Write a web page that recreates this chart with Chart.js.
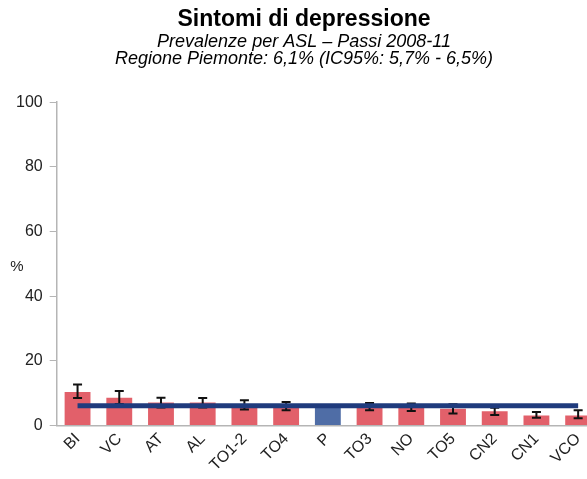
<!DOCTYPE html>
<html>
<head>
<meta charset="utf-8">
<script src="https://cdn.jsdelivr.net/npm/chart.js@4.4.1/dist/chart.umd.min.js"></script>
<style>
  html, body { margin: 0; padding: 0; background: #fff; overflow: hidden; }
  #wrap { width: 587px; height: 479px; overflow: hidden; }
  canvas { display: block; }
</style>
</head>
<body>
<div id="wrap"><canvas id="myChart" width="616" height="479"></canvas></div>
<script>
const aslLabels = ["BI", "VC", "AT", "AL", "TO1-2", "TO4", "P", "TO3", "NO", "TO5", "CN2", "CN1", "VCO"];
const prevalence = [10.4, 8.6, 7.1, 7.1, 6.4, 6.2, 6.1, 5.8, 5.7, 5.2, 4.4, 3.1, 3.1];
const ciLow = [8.5, 6.7, 5.6, 5.6, 5.0, 4.7, null, 4.7, 4.5, 3.7, 3.3, 2.4, 2.3];
const ciHigh = [12.7, 10.7, 8.6, 8.5, 7.8, 7.3, null, 7.0, 6.8, 6.6, 5.5, 4.2, 4.7];
const regionValue = 6.1;
const yTicks = [0, 20, 40, 60, 80, 100];

const barColors = aslLabels.map(l => l === "P" ? "#4f6da6" : "#e2606a");

// whiskers for the 95% CI, drawn right after the bars so the regional line sits over them
const errorBars = {
    id: "errorBars",
    afterDatasetDraw(chart, args) {
        if (args.index !== 0) return;
        const ctx = chart.ctx;
        const y = chart.scales.y;
        const meta = chart.getDatasetMeta(0);
        ctx.save();
        ctx.strokeStyle = "#111";
        ctx.lineWidth = 2;
        meta.data.forEach((bar, i) => {
            if (ciLow[i] == null) return;
            const top = y.getPixelForValue(ciHigh[i]);
            const bottom = y.getPixelForValue(ciLow[i]);
            ctx.beginPath();
            ctx.moveTo(bar.x, top);
            ctx.lineTo(bar.x, bottom);
            ctx.moveTo(bar.x - 4.5, top);
            ctx.lineTo(bar.x + 4.5, top);
            ctx.moveTo(bar.x - 4.5, bottom);
            ctx.lineTo(bar.x + 4.5, bottom);
            ctx.stroke();
        });
        ctx.restore();
    }
};

const percentLabel = {
    id: "percentLabel",
    afterDraw(chart) {
        const ctx = chart.ctx;
        const area = chart.chartArea;
        ctx.save();
        ctx.font = "15px 'Liberation Sans', Arial, sans-serif";
        ctx.fillStyle = "#222";
        ctx.textAlign = "center";
        ctx.textBaseline = "middle";
        ctx.fillText("%", 17, (area.top + area.bottom) / 2 + 3);
        ctx.restore();
    }
};

const ctx = document.getElementById("myChart").getContext("2d");
const myChart = new Chart(ctx, {
    type: "bar",
    data: {
        labels: aslLabels,
        datasets: [{
            type: "bar",
            data: prevalence,
            backgroundColor: barColors,
            borderWidth: 0,
            barPercentage: 0.62,
            categoryPercentage: 1,
            order: 2
        }, {
            type: "line",
            data: aslLabels.map(() => regionValue),
            borderColor: "#1f3b7d",
            borderWidth: 5,
            pointRadius: 0,
            fill: false,
            order: 1
        }]
    },
    options: {
        responsive: false,
        animation: false,
        layout: { padding: { left: 9, right: 17, top: 0, bottom: 0 } },
        plugins: {
            legend: { display: false },
            tooltip: { enabled: false },
            title: {
                display: true,
                text: "Sintomi di depressione",
                color: "#000",
                font: { family: "'Liberation Sans', Arial, sans-serif", size: 23, weight: "bold", lineHeight: 1.0 },
                padding: { top: 8, bottom: 0 }
            },
            subtitle: {
                display: true,
                text: ["Prevalenze per ASL \u2013 Passi 2008-11", "Regione Piemonte: 6,1% (IC95%: 5,7% - 6,5%)"],
                color: "#000",
                font: { family: "'Liberation Sans', Arial, sans-serif", size: 18, style: "italic", lineHeight: 0.95 },
                padding: { top: 2, bottom: 35 }
            }
        },
        scales: {
            x: {
                grid: { display: false, drawTicks: false },
                border: { color: "#b5b5b5", width: 1.5 },
                ticks: {
                    color: "#222",
                    font: { family: "'Liberation Sans', Arial, sans-serif", size: 16 },
                    maxRotation: 45,
                    minRotation: 45,
                    padding: 4
                }
            },
            y: {
                min: 0,
                max: 100,
                afterBuildTicks(axis) { axis.ticks = yTicks.map(v => ({ value: v })); },
                grid: { drawOnChartArea: false, drawTicks: true, tickLength: 7, color: "#b5b5b5" },
                border: { color: "#b5b5b5", width: 1.5 },
                ticks: {
                    color: "#222",
                    font: { family: "'Liberation Sans', Arial, sans-serif", size: 16 },
                    padding: 7
                }
            }
        }
    },
    plugins: [errorBars, percentLabel]
});
</script>
</body>
</html>
